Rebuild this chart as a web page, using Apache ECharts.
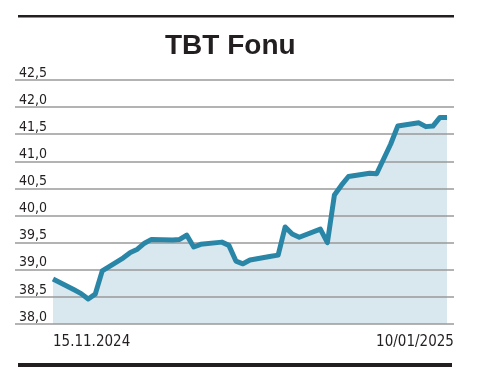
<!DOCTYPE html>
<html>
<head>
<meta charset="utf-8">
<script src="https://cdn.jsdelivr.net/npm/echarts@6/dist/echarts.min.js"></script>
<style>
    html, body { margin: 0; padding: 0; background: #fff; }
    #chart { width: 481px; height: 387px; }
</style>
</head>
<body>
<div id="chart"></div>
<script>
// trading days and fund price
const dates = [
    '2024-11-15', '2024-11-18', '2024-11-19', '2024-11-20', '2024-11-21', '2024-11-22',
    '2024-11-25', '2024-11-26', '2024-11-27', '2024-11-28', '2024-11-29',
    '2024-12-02', '2024-12-03', '2024-12-04', '2024-12-05', '2024-12-06',
    '2024-12-09', '2024-12-10', '2024-12-11', '2024-12-12', '2024-12-13',
    '2024-12-16', '2024-12-17', '2024-12-18', '2024-12-19', '2024-12-20',
    '2024-12-23', '2024-12-24', '2024-12-25', '2024-12-26', '2024-12-27',
    '2024-12-30', '2024-12-31', '2025-01-02', '2025-01-03',
    '2025-01-06', '2025-01-07', '2025-01-08', '2025-01-09', '2025-01-10'
]
const prices = [
    38.83, 38.63, 38.56, 38.46, 38.55, 38.98,
    39.22, 39.32, 39.38, 39.49, 39.56,
    39.55, 39.56, 39.64, 39.42, 39.47,
    39.51, 39.45, 39.16, 39.11, 39.18,
    39.25, 39.27, 39.79, 39.66, 39.60,
    39.75, 39.50, 40.38, 40.56, 40.72,
    40.78, 40.77, 41.32, 41.65,
    41.71, 41.64, 41.65, 41.81, 41.81
]
const yTicks = { min: 38, max: 42.5, step: 0.5 }
const xLabels = { '2024-11-15': '15.11.2024', '2025-01-10': '10/01/2025' }

// day number (UTC) so the x axis stays linear in calendar days
const toDay = s => {
    const [y, m, d] = s.split('-').map(Number)
    return Date.UTC(y, m - 1, d) / 86400000
}

const ink = '#231f20'
const narrow = "'Liberation Sans Narrow', 'DejaVu Sans Condensed', sans-serif"
const labelDays = {}
Object.keys(xLabels).forEach(k => { labelDays[toDay(k)] = xLabels[k] })
const seriesData = dates.map((d, i) => [toDay(d), prices[i]])

const chart = echarts.init(document.getElementById('chart'))

const option = {
    animation: false,
    title: {
        text: 'TBT Fonu',
        left: 165,
        top: 32,
        padding: 0,
        textStyle: {
            fontFamily: "'Liberation Sans', Arial, sans-serif",
            fontWeight: 'bold',
            fontSize: 28,
            color: ink
        }
    },
    graphic: [
        { type: 'rect', shape: { x: 18, y: 15, width: 436, height: 2.5 }, style: { fill: ink } },
        { type: 'rect', shape: { x: 18, y: 363, width: 434, height: 4 }, style: { fill: ink } }
    ],
    grid: [
        // plot area
        { left: 53, right: 34, top: 80, bottom: 63 },
        // full-width gridlines
        { left: 15, right: 27, top: 80, bottom: 63 }
    ],
    xAxis: [
        {
            type: 'value',
            gridIndex: 0,
            min: toDay(dates[0]),
            max: toDay(dates[dates.length - 1]),
            axisLine: { show: false },
            axisTick: { show: false },
            splitLine: { show: false },
            axisLabel: {
                customValues: Object.keys(labelDays).map(Number),
                formatter: v => labelDays[v] || '',
                alignMinLabel: 'left',
                alignMaxLabel: 'center',
                padding: [0, 64, 0, 0],
                margin: 11,
                fontFamily: narrow,
                fontSize: 15,
                color: ink
            }
        },
        { type: 'value', gridIndex: 1, show: false, min: 0, max: 1 }
    ],
    yAxis: [
        { type: 'value', gridIndex: 0, show: false, min: yTicks.min, max: yTicks.max },
        {
            type: 'value',
            gridIndex: 1,
            min: yTicks.min,
            max: yTicks.max,
            interval: yTicks.step,
            z: 1,
            axisLine: { show: false },
            axisTick: { show: false },
            splitLine: { lineStyle: { color: '#9a9a9a', width: 1.5 } },
            axisLabel: {
                inside: true,
                margin: 4,
                verticalAlign: 'bottom',
                fontFamily: narrow,
                fontSize: 14,
                color: ink,
                formatter: v => v.toFixed(1).replace('.', ',')
            }
        }
    ],
    series: [
        {
            type: 'line',
            xAxisIndex: 0,
            yAxisIndex: 0,
            z: 0,
            data: seriesData,
            symbol: 'none',
            lineStyle: { width: 0 },
            areaStyle: { color: '#d9e7ef', opacity: 1 },
            silent: true
        },
        {
            type: 'line',
            xAxisIndex: 0,
            yAxisIndex: 0,
            z: 3,
            data: seriesData,
            symbol: 'none',
            lineStyle: { width: 5, color: '#2a86a7', join: 'round', cap: 'butt' }
        }
    ]
}

chart.setOption(option)
</script>
</body>
</html>
